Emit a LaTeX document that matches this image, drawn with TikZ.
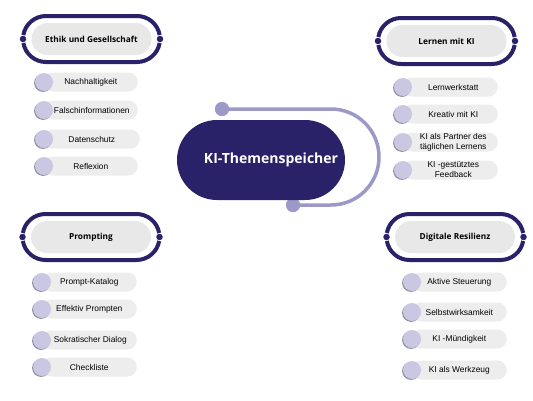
\documentclass[tikz,border=0pt]{standalone}
\usepackage{fontspec}
\setmainfont{Liberation Sans}
\newfontfamily\headfont{Open Sans}
\definecolor{navy}{HTML}{2A2268}
\definecolor{lav}{HTML}{9C99C9}
\definecolor{circ}{HTML}{C9C7E1}
\definecolor{shad}{HTML}{8E8C9E}
\definecolor{pillg}{HTML}{EDEDED}
\definecolor{headg}{HTML}{E8E8E8}
\tikzset{
 centerpill/.style={fill=navy, rounded corners=40pt, minimum width=168pt, minimum height=80pt, text=white, font=\headfont\bfseries\fontsize{14}{16}\selectfont, inner sep=0pt},
 catpill/.style={fill=headg, rounded corners=16pt, minimum width=120pt, minimum height=32pt, inner sep=0pt, font=\headfont\bfseries\fontsize{8.3}{10}\selectfont},
 ring/.style={draw=navy, line width=4pt},
 ringdot/.style={circle, fill=navy, minimum size=6.5pt, inner sep=0pt},
 arcline/.style={draw=lav, line width=3.5pt},
 arcdot/.style={circle, fill=lav, minimum size=14pt, inner sep=0pt},
 itempill/.style={fill=pillg, rounded corners=9.5pt, minimum height=19pt, inner sep=0pt, font=\fontsize{8.4}{10}\selectfont, align=center},
 itemcirc/.style={circle, fill=circ, minimum size=18pt, inner sep=0pt},
}
\newcommand\catring[5]{%
 \draw[ring] (#2-45.5,#3) ++(190:23) arc[start angle=190,end angle=270,radius=23] -- ++(91,0) arc[start angle=270,end angle=350,radius=23];
 \draw[ring] (#2-45.5,#3) ++(170:23) arc[start angle=170,end angle=90,radius=23] -- ++(91,0) arc[start angle=90,end angle=10,radius=23];
 \node[ringdot] (#1l) at (#2-68.5,#3) {};
 \node[ringdot] (#1r) at (#2+68.5,#3) {};
 \node[catpill] (#1) at (#2,#3) {#4#5};
}
\newcommand\kiitem[5]{%
 \node[itempill, minimum width={(#4-#2)*1pt}, anchor=east] (#1) at (#4,#3) {#5};
 \fill[shad] (#2-0.9,#3+0.9) circle (9pt);
 \node[itemcirc] (#1c) at (#2,#3) {};
}
\begin{document}
\begin{tikzpicture}[x=1pt,y=-1pt]
\useasboundingbox[fill=white] (0,0) rectangle (533,400);
% central
\node[arcdot] (dA) at (222,109) {};
\node[arcdot] (dB) at (293,205) {};
\draw[arcline] (dA.center) -- (331,109) arc[start angle=270,end angle=450,radius=48] -- (dB.center);
\node[arcdot] at (dA) {};
\node[arcdot] at (dB) {};
\node[centerpill] (ki) at (261,160) {\hspace*{20pt}KI-Themenspeicher};
% categories
\catring{ethik}{91.5}{39}{Ethik und Gesellschaft}{}
\catring{lernen}{446.5}{41}{Lernen mit KI}{}
\catring{prompt}{91}{237}{Prompting}{}
\catring{resil}{455}{237}{Digitale Resilienz}{}
% Ethik items
\kiitem{e1}{44}{82}{138}{Nachhaltigkeit}
\kiitem{e2}{44}{110}{138}{\hspace*{2pt}Falschinformationen}
\kiitem{e3}{44}{139}{140}{Datenschutz}
\kiitem{e4}{44}{166}{138}{Reflexion}
% Lernen items
\kiitem{l1}{403}{87}{498}{\hspace*{6pt}Lernwerkstatt}
\kiitem{l2}{403}{114}{498}{\hspace*{6pt}Kreativ mit KI}
\kiitem{l3}{403}{142}{498}{\hspace*{6pt}KI als Partner des\\\hspace*{6pt}täglichen Lernens}
\kiitem{l4}{403}{170}{498}{\hspace*{6pt}KI -gestütztes\\\hspace*{6pt}Feedback}
% Prompting items
\kiitem{p1}{42}{282}{137}{Prompt-Katalog}
\kiitem{p2}{42}{309}{137}{Effektiv Prompten}
\kiitem{p3}{42}{340}{137}{\hspace*{2pt}Sokratischer Dialog}
\kiitem{p4}{42}{367}{137}{Checkliste}
% Resilienz items
\kiitem{r1}{412}{282}{507}{Aktive Steuerung}
\kiitem{r2}{412}{312}{507}{Selbstwirksamkeit}
\kiitem{r3}{412}{339}{507}{KI -Mündigkeit}
\kiitem{r4}{412}{370}{507}{KI als Werkzeug}
\end{tikzpicture}
\end{document}
